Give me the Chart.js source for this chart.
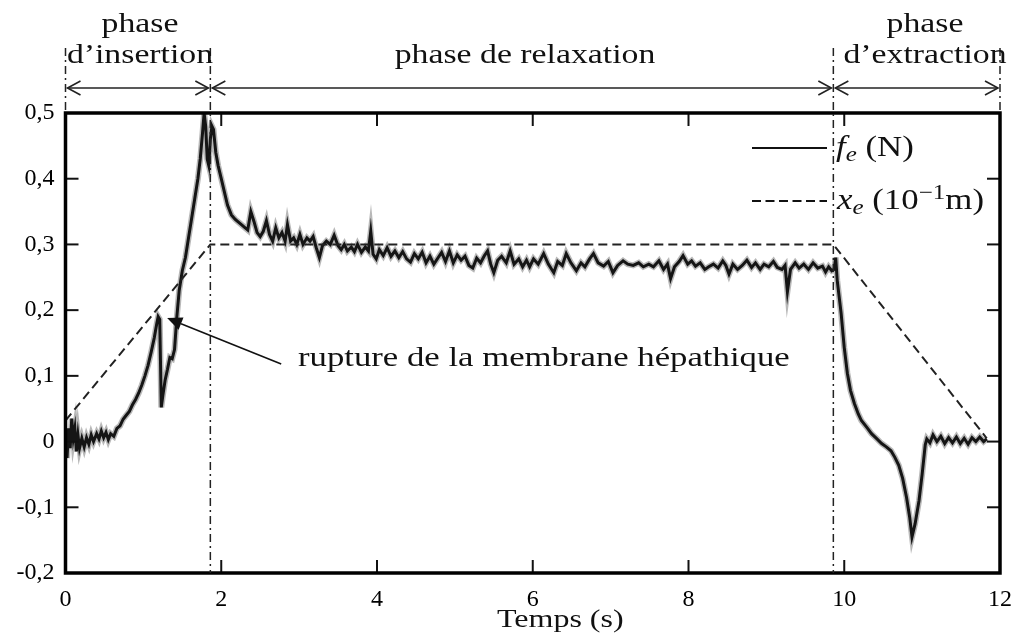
<!DOCTYPE html>
<html>
<head>
<meta charset="utf-8">
<script src="https://cdn.jsdelivr.net/npm/chart.js@4/dist/chart.umd.min.js"></script>
<style>
  html, body { margin: 0; padding: 0; background: #fff; }
  #wrap { position: relative; width: 1024px; height: 637px; overflow: hidden; }
  canvas { position: absolute; left: 0; top: 0; }
  .t { position: absolute; font-family: 'Liberation Serif', 'Times New Roman', serif; color: #111; white-space: nowrap; line-height: 1; }
  .c { text-align: center; transform: scaleX(1.25); }
  .l { transform-origin: 0 50%; }
  sub { font-size: 0.72em; vertical-align: -0.25em; line-height: 0; }
  sup { font-size: 0.72em; vertical-align: 0.5em; line-height: 0; }
</style>
</head>
<body>
<div id="wrap">
  <canvas id="chart" width="1024" height="637"></canvas>
  <div class="t c" style="font-size:27px; left:40px; width:200px; top:10px;">phase</div>
  <div class="t c" style="font-size:27px; left:40px; width:200px; top:41px;">d’insertion</div>
  <div class="t c" style="font-size:27px; left:375px; width:300px; top:41px;">phase de relaxation</div>
  <div class="t c" style="font-size:27px; left:825px; width:200px; top:10px;">phase</div>
  <div class="t c" style="font-size:27px; left:825px; width:200px; top:41px;">d’extraction</div>
  <div class="t l" style="font-size:29px; left:836px; top:132px; transform:scaleX(1.2);"><i>f</i><sub><i>e</i></sub> (N)</div>
  <div class="t l" style="font-size:29px; left:837px; top:185px; transform:scaleX(1.2);"><i>x</i><sub><i>e</i></sub> (10<sup>−1</sup>m)</div>
  <div class="t l" style="font-size:28px; left:298px; top:343px; transform:scaleX(1.24);">rupture de la membrane hépathique</div>
  <div class="t l" style="font-size:25px; left:497px; top:606px; transform:scaleX(1.28);">Temps (s)</div>
</div>
<script>
// ---- data ----
const forceTime = [
  0.00,0.02,0.04,0.06,0.08,0.10,0.12,0.14,0.16,0.18,0.21,0.24,0.27,0.30,0.33,0.36,0.40,0.43,0.46,0.49,
  0.52,0.55,0.58,0.62,0.66,0.70,0.74,0.78,0.82,0.86,0.90,0.94,0.98,1.02,1.06,1.10,1.14,1.17,1.19,1.21,
  1.22,1.23,1.25,1.28,1.31,1.34,1.37,1.40,1.43,1.46,1.50,1.54,1.58,1.62,1.66,1.70,1.73,1.76,1.78,1.80,
  1.82,1.84,1.86,1.88,1.90,1.93,1.96,2.00,2.04,2.08,2.13,2.18,2.24,2.30,2.34,2.38,2.42,2.46,2.50,2.54,
  2.58,2.62,2.66,2.70,2.74,2.78,2.82,2.85,2.89,2.93,2.97,3.01,3.05,3.10,3.14,3.18,3.22,3.26,3.30,3.35,
  3.40,3.45,3.50,3.54,3.58,3.62,3.67,3.71,3.75,3.80,3.85,3.89,3.92,3.95,3.99,4.03,4.08,4.13,4.18,4.23,
  4.28,4.33,4.38,4.43,4.48,4.53,4.58,4.63,4.68,4.73,4.78,4.83,4.88,4.93,4.98,5.03,5.08,5.13,5.18,5.23,
  5.28,5.33,5.38,5.42,5.46,5.50,5.55,5.60,5.66,5.71,5.76,5.82,5.87,5.92,5.96,6.01,6.07,6.14,6.20,6.27,
  6.32,6.38,6.43,6.49,6.56,6.62,6.67,6.73,6.78,6.84,6.91,6.97,7.03,7.09,7.16,7.22,7.29,7.36,7.42,7.49,
  7.55,7.62,7.68,7.73,7.77,7.82,7.88,7.93,7.99,8.04,8.09,8.15,8.21,8.26,8.32,8.38,8.44,8.48,8.52,8.57,
  8.63,8.69,8.75,8.81,8.86,8.92,8.97,9.03,9.09,9.14,9.20,9.24,9.27,9.31,9.37,9.42,9.48,9.54,9.60,9.66,
  9.72,9.76,9.80,9.84,9.87,9.89,9.91,9.96,10.00,10.04,10.08,10.13,10.18,10.22,10.30,10.35,10.42,10.48,10.54,10.60,
  10.65,10.70,10.75,10.80,10.84,10.87,10.91,10.96,11.00,11.04,11.06,11.10,11.14,11.19,11.24,11.29,11.34,11.39,11.44,11.49,
  11.54,11.59,11.64,11.69,11.74,11.79,11.83
];
const forceValue = [
  0.015,-0.025,0.020,-0.010,0.035,0.005,0.020,-0.015,0.010,-0.010,0.005,-0.008,0.006,-0.004,0.010,0.000,0.012,0.004,0.016,0.006,
  0.014,0.003,0.012,0.008,0.020,0.024,0.034,0.040,0.046,0.056,0.064,0.074,0.086,0.100,0.116,0.136,0.158,0.178,0.190,0.186,
  0.120,0.052,0.070,0.094,0.110,0.128,0.126,0.140,0.190,0.230,0.260,0.280,0.310,0.340,0.370,0.400,0.430,0.470,0.500,0.480,
  0.430,0.420,0.460,0.480,0.475,0.440,0.420,0.400,0.380,0.360,0.345,0.338,0.332,0.326,0.322,0.350,0.335,0.318,0.312,0.320,
  0.336,0.315,0.305,0.325,0.310,0.318,0.305,0.330,0.305,0.310,0.300,0.315,0.300,0.310,0.305,0.312,0.295,0.280,0.298,0.305,
  0.300,0.314,0.298,0.292,0.300,0.290,0.296,0.289,0.300,0.288,0.296,0.290,0.320,0.285,0.278,0.292,0.283,0.295,0.282,0.290,
  0.280,0.289,0.278,0.273,0.286,0.278,0.288,0.272,0.282,0.270,0.279,0.288,0.274,0.290,0.272,0.284,0.276,0.282,0.268,0.264,
  0.279,0.272,0.283,0.290,0.270,0.257,0.276,0.282,0.272,0.290,0.270,0.278,0.266,0.276,0.266,0.278,0.270,0.286,0.270,0.257,
  0.274,0.268,0.286,0.272,0.260,0.272,0.266,0.278,0.286,0.272,0.267,0.274,0.257,0.268,0.275,0.270,0.268,0.272,0.266,0.270,
  0.266,0.275,0.262,0.270,0.248,0.266,0.274,0.283,0.270,0.275,0.267,0.272,0.262,0.266,0.270,0.264,0.275,0.268,0.255,0.270,
  0.262,0.268,0.276,0.265,0.272,0.262,0.270,0.266,0.274,0.265,0.262,0.268,0.228,0.262,0.272,0.264,0.270,0.262,0.272,0.264,
  0.267,0.258,0.266,0.260,0.262,0.280,0.245,0.195,0.143,0.104,0.078,0.058,0.042,0.032,0.020,0.012,0.004,-0.003,-0.008,-0.014,
  -0.024,-0.036,-0.056,-0.085,-0.115,-0.145,-0.125,-0.090,-0.050,-0.005,0.004,-0.002,0.010,0.000,0.008,-0.003,0.006,-0.002,0.007,-0.003,
  0.005,-0.004,0.006,0.000,0.007,0.000,0.004
];
const xeTime  = [0, 1.86, 9.86, 11.83];
const xeValue = [0.032, 0.300, 0.300, 0.005];
const phaseBounds = [0, 1.86, 9.86, 12];
const xTickValues = [0, 2, 4, 6, 8, 10, 12];
const yTickValues = [-0.2, -0.1, 0, 0.1, 0.2, 0.3, 0.4, 0.5];
const arrowTip  = [1.305, 0.188];
const arrowTail = [2.77, 0.118];

const toPts = (xs, ys) => xs.map((v, i) => ({ x: v, y: ys[i] }));
const fmtY = v => (Math.abs(v) < 1e-9 ? '0' : v.toFixed(1).replace('.', ','));

function seg(ctx, x1, y1, x2, y2) { ctx.beginPath(); ctx.moveTo(x1, y1); ctx.lineTo(x2, y2); ctx.stroke(); }
function chevron(ctx, x, y, dir) {
  ctx.beginPath(); ctx.moveTo(x - dir * 13, y - 7); ctx.lineTo(x, y); ctx.lineTo(x - dir * 13, y + 7); ctx.stroke();
}

const decor = {
  id: 'decor',
  afterDraw(chart) {
    const { ctx, chartArea: a, scales: { x, y } } = chart;
    ctx.save();
    ctx.strokeStyle = '#111';
    // inward ticks
    ctx.lineWidth = 2;
    xTickValues.slice(1, -1).forEach(v => {
      const px = x.getPixelForValue(v);
      seg(ctx, px, a.bottom, px, a.bottom - 13);
      seg(ctx, px, a.top, px, a.top + 13);
    });
    yTickValues.slice(1, -1).forEach(v => {
      const py = y.getPixelForValue(v);
      seg(ctx, a.left, py, a.left + 13, py);
      seg(ctx, a.right, py, a.right - 13, py);
    });
    // frame
    ctx.lineWidth = 3.5; ctx.strokeStyle = '#000';
    ctx.strokeRect(a.left, a.top, a.right - a.left, a.bottom - a.top);
    // phase separators (dash-dot)
    ctx.lineWidth = 1.5; ctx.strokeStyle = '#222';
    ctx.setLineDash([8, 4, 2, 4]);
    phaseBounds.forEach((b, i) => {
      const px = x.getPixelForValue(b);
      const end = (i === 0 || i === phaseBounds.length - 1) ? a.top : a.bottom;
      seg(ctx, px, 48, px, end);
    });
    ctx.setLineDash([]);
    // double arrows
    const ay = 88;
    ctx.lineWidth = 1.6;
    for (let i = 0; i < phaseBounds.length - 1; i++) {
      const p1 = x.getPixelForValue(phaseBounds[i]) + 2;
      const p2 = x.getPixelForValue(phaseBounds[i + 1]) - 2;
      seg(ctx, p1, ay, p2, ay);
      chevron(ctx, p1, ay, -1);
      chevron(ctx, p2, ay, 1);
    }
    // legend samples
    ctx.lineWidth = 2.2; ctx.strokeStyle = '#111';
    seg(ctx, 752, 148, 827, 148);
    ctx.setLineDash([9, 4.5]);
    seg(ctx, 752, 201, 827, 201);
    ctx.setLineDash([]);
    // annotation arrow
    const tx = x.getPixelForValue(arrowTip[0]), ty = y.getPixelForValue(arrowTip[1]);
    const sx = x.getPixelForValue(arrowTail[0]), sy = y.getPixelForValue(arrowTail[1]);
    ctx.lineWidth = 1.6;
    const ang = Math.atan2(ty - sy, tx - sx);
    const L = 15, W = 6.5;
    const bx = tx - L * Math.cos(ang), by = ty - L * Math.sin(ang);
    seg(ctx, sx, sy, bx, by);
    ctx.fillStyle = '#111';
    ctx.beginPath();
    ctx.moveTo(tx, ty);
    ctx.lineTo(bx + W * Math.sin(ang), by - W * Math.cos(ang));
    ctx.lineTo(bx - W * Math.sin(ang), by + W * Math.cos(ang));
    ctx.closePath(); ctx.fill();
    ctx.restore();
  }
};

const tickFont = { family: "'Liberation Serif', 'Times New Roman', serif", size: 24 };

new Chart(document.getElementById('chart'), {
  type: 'scatter',
  data: {
    datasets: [
      { label: 'halo', data: toPts(forceTime, forceValue), showLine: true, borderColor: 'rgba(0,0,0,0.28)', borderWidth: 6, pointRadius: 0, tension: 0, order: 3 },
      { label: 'f_e (N)', data: toPts(forceTime, forceValue), showLine: true, borderColor: '#151515', borderWidth: 3, pointRadius: 0, tension: 0, order: 2 },
      { label: 'x_e (10^-1 m)', data: toPts(xeTime, xeValue), showLine: true, borderColor: '#222', borderWidth: 2, borderDash: [9, 5], pointRadius: 0, tension: 0, order: 1 }
    ]
  },
  options: {
    responsive: false,
    animation: false,
    events: [],
    layout: { padding: { top: 113, right: 18, left: 0, bottom: 0 } },
    plugins: { legend: { display: false }, tooltip: { enabled: false } },
    scales: {
      x: {
        type: 'linear', min: 0, max: 12,
        afterBuildTicks: s => { s.ticks = xTickValues.map(v => ({ value: v })); },
        ticks: { font: tickFont, color: '#000', padding: 12, maxRotation: 0, autoSkip: false, callback: v => String(v) },
        grid: { display: false, drawTicks: false },
        border: { display: false },
        afterFit: s => { s.height = 64; }
      },
      y: {
        min: -0.2, max: 0.5,
        afterBuildTicks: s => { s.ticks = yTickValues.map(v => ({ value: v })); },
        ticks: { font: tickFont, color: '#000', padding: 11, autoSkip: false, callback: fmtY },
        grid: { display: false, drawTicks: false },
        border: { display: false },
        afterFit: s => { s.width = 65.5; }
      }
    }
  },
  plugins: [decor]
});
</script>
</body>
</html>
